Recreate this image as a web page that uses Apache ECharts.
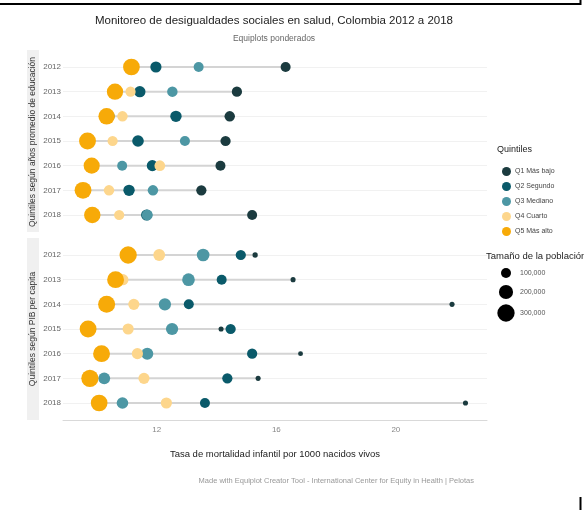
<!DOCTYPE html>
<html><head><meta charset="utf-8">
<script src="https://cdn.jsdelivr.net/npm/echarts@6/dist/echarts.min.js"></script>
<style>html,body{margin:0;padding:0;background:#fff}#c{width:584px;height:510px}</style>
</head><body><div id="c"></div>
<script>
const years = ['2012','2013','2014','2015','2016','2017','2018'];
const quintileNames = ['Q1 Más bajo','Q2 Segundo','Q3 Mediano','Q4 Cuarto','Q5 Más alto'];
const quintileColors = ['#1b3b3f','#0a5a6a','#4d97a4','#fdd68c','#f7aa08'];
const panelLabels = ['Quintiles según años promedio de educación','Quintiles según PIB per capita'];

// Panel 1: education quintiles (mortality rate)
const eduQ1 = [16.31, 14.68, 14.44, 14.30, 14.13, 13.49, 15.19];
const eduQ2 = [11.97, 11.43, 12.64, 11.37, 11.85, 11.07, 11.66];
const eduQ3 = [13.40, 12.52, 10.42, 12.94, 10.84, 11.87, 11.68];
const eduQ4 = [11.22, 11.12, 10.85, 10.52, 12.10, 10.40, 10.74];
const eduQ5 = [11.15, 10.60, 10.32, 9.68, 9.82, 9.53, 9.84];
// Panel 1: population sizes
const eduPopQ1 = [100000, 105000, 110000, 105000, 100000, 105000, 100000];
const eduPopQ2 = [125000, 130000, 130000, 135000, 125000, 130000, 125000];
const eduPopQ3 = [100000, 110000, 110000, 100000, 100000, 110000, 120000];
const eduPopQ4 = [105000, 105000, 110000, 105000, 115000, 110000, 105000];
const eduPopQ5 = [280000, 265000, 270000, 285000, 260000, 285000, 270000];

// Panel 2: GDP per capita quintiles (mortality rate)
const pibQ1 = [15.29, 16.56, 21.88, 14.15, 16.81, 15.39, 22.33];
const pibQ2 = [14.81, 14.17, 13.07, 14.47, 15.19, 14.36, 13.61];
const pibQ3 = [13.55, 13.06, 12.27, 12.51, 11.68, 10.24, 10.85];
const pibQ4 = [12.08, 10.86, 11.23, 11.04, 11.35, 11.57, 12.32];
const pibQ5 = [11.04, 10.62, 10.32, 9.70, 10.15, 9.76, 10.07];
// Panel 2: population sizes
const pibPopQ1 = [28000, 26000, 26000, 26000, 24000, 26000, 26000];
const pibPopQ2 = [105000, 100000, 100000, 105000, 105000, 105000, 100000];
const pibPopQ3 = [160000, 160000, 150000, 150000, 145000, 140000, 135000];
const pibPopQ4 = [140000, 130000, 125000, 125000, 125000, 125000, 125000];
const pibPopQ5 = [300000, 285000, 290000, 285000, 285000, 295000, 280000];

const xTicks = [12, 16, 20];
const sizeLegendValues = [100000, 200000, 300000];
const sizeLegendLabels = ['100,000', '200,000', '300,000'];

const FONT = 'Liberation Sans, Arial, sans-serif';
const sz = p => 10 * Math.sqrt(p / 100000);

const panels = [
  {vals: [eduQ1, eduQ2, eduQ3, eduQ4, eduQ5], pops: [eduPopQ1, eduPopQ2, eduPopQ3, eduPopQ4, eduPopQ5]},
  {vals: [pibQ1, pibQ2, pibQ3, pibQ4, pibQ5], pops: [pibPopQ1, pibPopQ2, pibPopQ3, pibPopQ4, pibPopQ5]}
];

const grids = [
  {left: 63, right: 97, top: 67, height: 148},
  {left: 63, right: 97, top: 255, height: 148}
];

const xAxes = [0, 1].map(g => ({
  type: 'value', gridIndex: g, min: 8.86, max: 23.05,
  splitLine: {show: false},
  axisTick: {show: false},
  axisLine: {show: g === 1, onZero: false, lineStyle: {color: '#d9d9d9', width: 1}},
  offset: g === 1 ? 17 : 0,
  axisLabel: g === 1 ? {customValues: xTicks, fontSize: 8, color: '#888', margin: 6, fontFamily: FONT} : {show: false},
  name: g === 1 ? 'Tasa de mortalidad infantil por 1000 nacidos vivos' : '',
  nameLocation: 'middle', nameGap: 29,
  nameTextStyle: {fontSize: 9.5, color: '#222', fontFamily: FONT}
}));

const yAxes = [0, 1].map(g => ({
  type: 'category', gridIndex: g, data: years, inverse: true, boundaryGap: false,
  axisLine: {show: false}, axisTick: {show: false},
  splitLine: {show: true, lineStyle: {color: '#f1f1f1', width: 1}},
  axisLabel: {fontSize: 8, color: '#666', margin: 2, fontFamily: FONT}
}));

const series = [];
panels.forEach((p, g) => {
  series.push({
    type: 'custom', xAxisIndex: g, yAxisIndex: g, silent: true, z: 1,
    encode: {x: [0, 1], y: 2},
    data: years.map((y, i) => {
      const row = p.vals.map(a => a[i]);
      return [Math.min(...row), Math.max(...row), i];
    }),
    renderItem: (params, api) => {
      const a = api.coord([api.value(0), api.value(2)]);
      const b = api.coord([api.value(1), api.value(2)]);
      return {type: 'line', shape: {x1: a[0], y1: a[1], x2: b[0], y2: b[1]},
        style: {stroke: '#d4d4d4', lineWidth: 2}};
    }
  });
  p.vals.forEach((arr, q) => {
    series.push({
      type: 'scatter', name: quintileNames[q], xAxisIndex: g, yAxisIndex: g, z: 2 + q,
      clip: false,
      data: years.map((y, i) => [arr[i], i, p.pops[q][i]]),
      symbolSize: v => sz(v[2]),
      itemStyle: {color: quintileColors[q], opacity: 1},
      emphasis: {disabled: true}
    });
  });
});

const graphic = [
  // screenshot frame lines
  {type: 'line', shape: {x1: 0, y1: 4, x2: 581, y2: 4}, style: {stroke: '#000', lineWidth: 2}},
  {type: 'line', shape: {x1: 580.5, y1: 0, x2: 580.5, y2: 5}, style: {stroke: '#000', lineWidth: 2}},
  {type: 'line', shape: {x1: 580.5, y1: 497, x2: 580.5, y2: 510}, style: {stroke: '#000', lineWidth: 2}},
  // title
  {type: 'text', x: 274, y: 21, style: {text: 'Monitoreo de desigualdades sociales en salud, Colombia 2012 a 2018',
    fontSize: 11.5, fill: '#222', fontFamily: FONT, align: 'center', verticalAlign: 'middle'}},
  {type: 'text', x: 274, y: 39, style: {text: 'Equiplots ponderados',
    fontSize: 8.5, fill: '#666', fontFamily: FONT, align: 'center', verticalAlign: 'middle'}},
  // strips
  {type: 'rect', shape: {x: 27, y: 50, width: 12, height: 182}, style: {fill: '#f0f0f0'}},
  {type: 'rect', shape: {x: 27, y: 238, width: 12, height: 182}, style: {fill: '#f0f0f0'}},
  {type: 'text', x: 33, y: 142, rotation: Math.PI / 2, style: {text: panelLabels[0],
    fontSize: 8.5, fill: '#333', fontFamily: FONT, align: 'center', verticalAlign: 'middle'}},
  {type: 'text', x: 33, y: 329, rotation: Math.PI / 2, style: {text: panelLabels[1],
    fontSize: 8.5, fill: '#333', fontFamily: FONT, align: 'center', verticalAlign: 'middle'}},
  // caption
  {type: 'text', x: 474, y: 481, style: {text: 'Made with Equiplot Creator Tool - International Center for Equity in Health | Pelotas',
    fontSize: 7.5, fill: '#999', fontFamily: FONT, align: 'right', verticalAlign: 'middle'}},
  // legend titles
  {type: 'text', x: 497, y: 150, style: {text: 'Quintiles', fontSize: 9, fill: '#222', fontFamily: FONT, verticalAlign: 'middle'}},
  {type: 'text', x: 486, y: 256, style: {text: 'Tamaño de la población', fontSize: 9.5, fill: '#222', fontFamily: FONT, verticalAlign: 'middle'}}
];
const sizeLegendY = [273, 292, 313];
sizeLegendValues.forEach((v, i) => {
  graphic.push({type: 'circle', shape: {cx: 506, cy: sizeLegendY[i], r: sz(v) / 2}, style: {fill: '#000'}});
  graphic.push({type: 'text', x: 520, y: sizeLegendY[i], style: {text: sizeLegendLabels[i],
    fontSize: 7, fill: '#555', fontFamily: FONT, verticalAlign: 'middle'}});
});

const chart = echarts.init(document.getElementById('c'), null, {renderer: 'canvas'});
chart.setOption({
  animation: false,
  backgroundColor: '#fff',
  grid: grids,
  xAxis: xAxes,
  yAxis: yAxes,
  legend: {
    data: quintileNames, orient: 'vertical', left: 497, top: 162,
    icon: 'circle', itemWidth: 9, itemHeight: 9, itemGap: 6,
    textStyle: {fontSize: 7, color: '#444', fontFamily: FONT, padding: [0, 0, 0, -1]},
    selectedMode: false
  },
  series: series,
  graphic: graphic
});
</script></body></html>
